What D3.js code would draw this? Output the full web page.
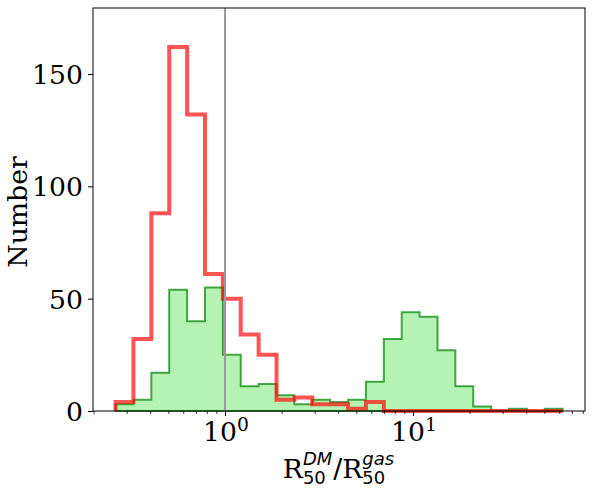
<!DOCTYPE html>
<html>
<head>
<meta charset="utf-8">
<script src="https://cdn.jsdelivr.net/npm/d3@7"></script>
<style>
  body { margin: 0; background: #fff; }
  svg { display: block; }
  text { font-family: "DejaVu Serif", serif; fill: #000; }
</style>
</head>
<body>
<svg id="chart" width="593" height="494"></svg>
<script>
// bin edges (log spaced)
var binEdges = [0.2618, 0.3259, 0.4058, 0.5051, 0.6289, 0.7828, 0.9745, 1.213, 1.510, 1.880,
                2.340, 2.913, 3.627, 4.515, 5.620, 6.996, 8.710, 10.84, 13.50, 16.80,
                20.91, 26.04, 32.41, 40.35, 50.22, 62.52];
// counts per bin
var redCounts   = [4, 32, 88, 162, 132, 61, 50, 34, 25, 5, 6, 3, 3, 1, 4, 0, 0, 0, 0, 0, 0, 0, 0, 0, 0];
var greenCounts = [3, 5, 17, 54, 40, 55, 25, 11, 12, 7, 3, 5, 4, 5, 13, 32, 44, 42, 27, 11, 2, 0, 1, 0, 1];
var yTicks = [0, 50, 100, 150];
var xMajor = [1, 10];
var xMinor = [0.2, 0.3, 0.4, 0.5, 0.6, 0.7, 0.8, 0.9, 2, 3, 4, 5, 6, 7, 8, 9, 20, 30, 40, 50, 60, 70, 80];
var refLine = 1;

// plot box (note: "top" is a reserved window global, so use px* names)
var pxL = 93, pxR = 585, pxT = 8, pxB = 411;
var svg = d3.select("#chart");

var x = d3.scaleLog().domain([0.1986, 82.2]).range([pxL, pxR]);
var y = d3.scaleLinear().domain([0, 179.4]).range([pxB, pxT]);

// build step outline points from the counts
function stepPoints(counts) {
    var pts = [[binEdges[0], 0]];
    counts.forEach(function(c, i) {
        pts.push([binEdges[i], c]);
        pts.push([binEdges[i + 1], c]);
    });
    pts.push([binEdges[binEdges.length - 1], 0]);
    return pts;
}

var line = d3.line()
    .x(function(d) { return x(d[0]); })
    .y(function(d) { return y(d[1]); });

// green filled histogram
svg.append("path")
    .attr("d", line(stepPoints(greenCounts)) + "Z")
    .attr("fill", "lightgreen")
    .attr("fill-opacity", 0.68)
    .attr("stroke", "green")
    .attr("stroke-opacity", 0.7)
    .attr("stroke-width", 2)
    .attr("stroke-linejoin", "miter");

// red step histogram
svg.append("path")
    .attr("d", line(stepPoints(redCounts)))
    .attr("fill", "none")
    .attr("stroke", "red")
    .attr("stroke-opacity", 0.67)
    .attr("stroke-width", 4)
    .attr("stroke-linejoin", "miter");

// vertical reference line
svg.append("line")
    .attr("x1", x(refLine)).attr("x2", x(refLine))
    .attr("y1", pxT).attr("y2", pxB)
    .attr("stroke", "#9a9a9a")
    .attr("stroke-width", 2);

// axes
var yAxis = svg.append("g")
    .attr("transform", "translate(" + pxL + ",0)")
    .call(d3.axisLeft(y).tickValues(yTicks).tickSize(5).tickPadding(5).tickSizeOuter(0));
yAxis.select(".domain").remove();
yAxis.selectAll("text")
    .style("font-family", "DejaVu Serif, serif")
    .style("font-size", "26.67px")
    .attr("dy", "0.36em");

var xMinorAxis = svg.append("g")
    .attr("transform", "translate(0," + pxB + ")")
    .call(d3.axisBottom(x).tickValues(xMinor).tickSize(3).tickFormat(""));
xMinorAxis.select(".domain").remove();
xMinorAxis.selectAll("line").attr("stroke-width", 0.8);

var xAxis = svg.append("g")
    .attr("transform", "translate(0," + pxB + ")")
    .call(d3.axisBottom(x).tickValues(xMajor).tickSize(5).tickFormat(""));
xAxis.select(".domain").remove();

// x tick labels as 10^n
xMajor.forEach(function(v) {
    var t = svg.append("text")
        .attr("x", x(v) + 1)
        .attr("y", 441)
        .attr("text-anchor", "middle")
        .style("font-size", "26.67px");
    t.append("tspan").text("10");
    t.append("tspan")
        .attr("dy", -10)
        .style("font-size", "18.7px")
        .text(Math.round(Math.log10(v)));
});

// frame
svg.append("rect")
    .attr("x", pxL).attr("y", pxT)
    .attr("width", pxR - pxL).attr("height", pxB - pxT)
    .attr("fill", "none")
    .attr("stroke", "#000")
    .attr("stroke-width", 1);

// y label
svg.append("text")
    .attr("transform", "translate(27,212) rotate(-90)")
    .attr("text-anchor", "middle")
    .style("font-size", "26.67px")
    .text("Number");

// x label: R_50^DM / R_50^gas
var lab = svg.append("g");
var cursor = 0, base = 478;
function piece(txt, size, family, style, dy) {
    var t = lab.append("text")
        .attr("x", cursor).attr("y", base + dy)
        .style("font-size", size + "px")
        .style("font-family", family)
        .style("font-style", style)
        .text(txt);
    return t.node().getComputedTextLength();
}
function scripted(main, sup) {
    cursor += piece(main, 26.67, "DejaVu Serif, serif", "normal", 0);
    var w1 = piece(sup, 18, "DejaVu Sans, sans-serif", "italic", -13);
    var w2 = piece("50", 18, "DejaVu Sans, sans-serif", "normal", 6);
    cursor += Math.max(w1, w2) + 1;
}
scripted("R", "DM");
cursor += piece("/", 26.67, "DejaVu Sans, sans-serif", "normal", 0);
scripted("R", "gas");
lab.attr("transform", "translate(" + ((pxL + pxR) / 2 - cursor / 2) + ",0)");
</script>
</body>
</html>
